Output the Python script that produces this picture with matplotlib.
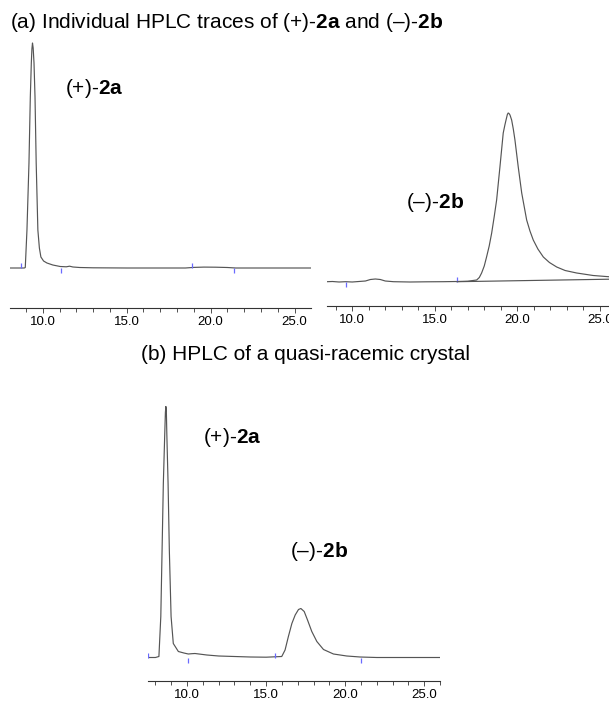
import matplotlib.pyplot as plt
from matplotlib.ticker import MultipleLocator, FormatStrFormatter

plt.rcParams['font.family'] = ['Liberation Sans', 'DejaVu Sans']
plt.rcParams['mathtext.fontset'] = 'custom'
plt.rcParams['mathtext.rm'] = 'Liberation Sans'
plt.rcParams['mathtext.bf'] = 'Liberation Sans:bold'

# (a) (+)-2a alone: retention time (min) vs detector signal (arb.)
t_2a = [8.05, 8.5, 8.9, 8.96, 9.06, 9.18, 9.26, 9.32, 9.355, 9.39, 9.43, 9.48, 9.54,
        9.61, 9.71, 9.8, 9.89, 10.05, 10.25, 10.6, 11.04, 11.4, 11.6, 11.8, 12.2, 13.0,
        15.0, 18.5, 19.0, 19.6, 20.3, 21.0, 21.5, 23.0, 25.98]
s_2a = [0, 0, 0, 0.5, 38, 105, 171, 205, 219, 225, 220, 205, 171,
        105, 38, 20, 11, 7, 5, 3, 1.5, 1.2, 1.8, 1.0, 0.5, 0.2,
        0, 0, 0.6, 0.9, 0.8, 0.5, 0, 0, 0]
marks_2a = [8.72, 11.1, 18.9, 21.4]
dirs_2a = [1, -1, 1, -1]

# (a) (-)-2b alone
t_2b = [8.47, 8.8, 9.2, 9.6, 10.0, 10.4, 10.8, 11.1, 11.4, 11.7, 12.0, 12.5, 13.5,
        14.5, 15.5, 16.35, 17.0, 17.54, 17.7, 17.84, 18.0, 18.14, 18.3, 18.45, 18.6,
        18.75, 18.95, 19.15, 19.25, 19.32, 19.4, 19.45, 19.5, 19.56, 19.66, 19.76,
        19.86, 20.06, 20.27, 20.57, 20.77, 20.97, 21.25, 21.58, 21.95, 22.39, 22.9,
        23.6, 24.6, 25.6]
s_2b = [0.3, 0.5, 0, 0.3, 0, 0.5, 1, 2.5, 3, 2.5, 1, 0.3, 0,
        0.2, 0.3, 0.5, 0.8, 2, 4.5, 9, 16, 25, 36, 49, 65,
        82, 115, 149, 157, 162, 167.5, 169, 168.5, 167, 162, 153,
        142, 115, 89, 62, 51, 42, 33, 25, 19.5, 15, 11.5,
        9, 6.5, 5.2]
base_t_2b = [16.35, 25.6]
base_s_2b = [0.3, 2.8]
marks_2b = [9.6, 16.35]
dirs_2b = [-1, 1]

# (b) quasi-racemic crystal
t_mix = [7.53, 8.0, 8.22, 8.34, 8.42, 8.5, 8.59, 8.63, 8.66, 8.69, 8.72, 8.8, 8.88,
         8.99, 9.13, 9.45, 9.8, 10.08, 10.3, 10.5, 10.75, 11.25, 12.0, 13.0, 14.0,
         15.0, 15.99, 16.2, 16.41, 16.63, 16.84, 17.05, 17.2, 17.41, 17.62, 17.89,
         18.21, 18.63, 19.26, 20.1, 20.95, 22.0, 24.0, 26.0]
s_mix = [0, 0, 1, 41, 107, 174, 224, 245, 251, 247, 224, 174, 107,
         41, 14, 6, 4.5, 3.5, 3.8, 4, 3.5, 2.5, 1.5, 1, 0.5,
         0.3, 1, 7.5, 21, 34, 42.5, 48, 49, 46, 37.5, 26,
         16, 8, 3.5, 1.5, 0.5, 0, 0, 0]
marks_mix = [7.53, 10.06, 15.57, 21.0]
dirs_mix = [1, -1, 1, -1]

W, H = 609, 702
fig = plt.figure(figsize=(W / 100, H / 100), dpi=100)


def panel(left, right, top, bottom):
    # axes placed in pixel coordinates of the image
    return fig.add_axes([left / W, 1 - bottom / H, (right - left) / W, (bottom - top) / H])


def draw(ax, t, s, marks, dirs, xlim, ylim):
    ax.plot(t, s, color='#555555', lw=0.85)
    for m, d in zip(marks, dirs):
        ax.vlines(m, 0, 5 * d, color='#6a6aff', lw=0.9)
    ax.set_xlim(*xlim)
    ax.set_ylim(*ylim)
    for side in ['left', 'right', 'top']:
        ax.spines[side].set_visible(False)
    ax.spines['bottom'].set_color('#333333')
    ax.spines['bottom'].set_linewidth(0.8)
    ax.set_yticks([])
    ax.xaxis.set_major_locator(MultipleLocator(5))
    ax.xaxis.set_minor_locator(MultipleLocator(1))
    ax.xaxis.set_major_formatter(FormatStrFormatter('%.1f'))
    ax.tick_params(axis='x', which='major', length=3.5, width=0.6, labelsize=9.5, pad=2, color='#333333')
    ax.tick_params(axis='x', which='minor', length=3, width=0.6, color='#333333')
    ax.patch.set_alpha(0)


ax1 = panel(10, 311, 40, 308)
draw(ax1, t_2a, s_2a, marks_2a, dirs_2a, (8.05, 25.98), (-40, 228))

ax2 = panel(327, 609, 110, 306)
draw(ax2, t_2b, s_2b, marks_2b, dirs_2b, (8.47, 25.56), (-24, 172))
ax2.plot(base_t_2b, base_s_2b, color='#555555', lw=0.85)

ax3 = panel(148, 440, 400, 681)
draw(ax3, t_mix, s_mix, marks_mix, dirs_mix, (7.53, 26.0), (-23.5, 257.5))


def label(x, y, s, **kw):
    fig.text(x / W, 1 - y / H, s, fontsize=15, va='baseline', **kw)


label(10, 28, r'(a) Individual HPLC traces of (+)-$\mathbf{2a}$ and (–)-$\mathbf{2b}$')
label(65, 94, r'(+)-$\mathbf{2a}$')
label(406, 208, r'(–)-$\mathbf{2b}$')
label(305, 360, '(b) HPLC of a quasi-racemic crystal', ha='center')
label(203, 443, r'(+)-$\mathbf{2a}$')
label(290, 557, r'(–)-$\mathbf{2b}$')

fig.savefig('out.png', dpi=100)
